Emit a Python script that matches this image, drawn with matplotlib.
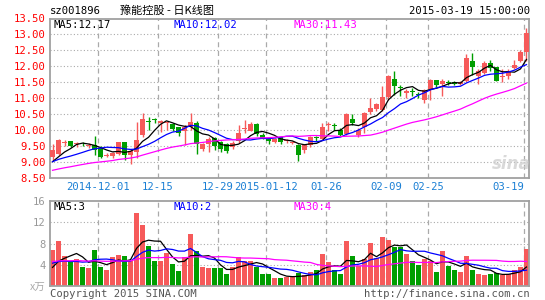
import numpy as np
import pandas as pd
import matplotlib
matplotlib.use('Agg')
import matplotlib.pyplot as plt

# ---------------- data ----------------
holidays = ['2015-01-01', '2015-01-02', '2015-02-18', '2015-02-19',
            '2015-02-20', '2015-02-23', '2015-02-24']
all_days = pd.bdate_range('2014-11-19', '2015-03-19')
dates = [d.strftime('%Y-%m-%d') for d in all_days if d.strftime('%Y-%m-%d') not in holidays]

open_ = [9.15, 9.25, 9.58, 9.64, 9.55, 9.60, 9.50, 9.51, 9.43, 9.18,
         9.17, 9.25, 9.62, 9.20, 9.30, 9.84, 10.28, 10.32, 10.22, 10.20,
         10.19, 10.08, 9.95, 10.10, 10.20, 9.40, 9.56, 9.74, 9.62, 9.55,
         9.45, 9.66, 10.03, 9.97, 10.18, 9.85, 9.74, 9.62, 9.76, 9.64,
         9.58, 9.53, 9.38, 9.53, 9.76, 9.72, 10.14, 10.14, 10.00, 9.86,
         10.33, 9.84, 10.10, 10.57, 10.66, 10.62, 11.04, 11.61, 11.34, 11.15,
         11.22, 11.14, 10.94, 11.27, 11.56, 11.45, 11.50, 11.50, 11.45, 11.52,
         12.16, 11.68, 11.78, 12.11, 11.96, 11.66, 11.68, 11.94, 12.17, 12.46]
close = [9.35, 9.67, 9.60, 9.49, 9.58, 9.57, 9.53, 9.38, 9.15, 9.20,
         9.27, 9.61, 9.22, 9.32, 9.69, 10.34, 10.25, 10.30, 10.28, 10.24,
         10.03, 9.90, 10.10, 10.26, 9.55, 9.55, 9.72, 9.50, 9.40, 9.34,
         9.60, 9.90, 10.05, 10.18, 9.86, 9.75, 9.64, 9.70, 9.63, 9.66,
         9.62, 9.22, 9.52, 9.78, 9.73, 10.08, 10.16, 10.11, 9.85, 10.49,
         10.21, 10.00, 10.52, 10.67, 10.81, 11.04, 11.69, 11.38, 11.30, 11.22,
         11.20, 11.10, 11.25, 11.58, 11.40, 11.52, 11.48, 11.45, 11.50, 12.25,
         11.99, 11.85, 12.10, 11.94, 11.55, 11.68, 11.86, 12.03, 12.45, 13.05]
high = [9.56, 9.70, 9.68, 9.66, 9.62, 9.62, 9.58, 9.79, 9.50, 9.26,
        9.30, 9.63, 9.63, 9.36, 10.24, 10.52, 10.39, 10.38, 10.30, 10.28,
        10.22, 10.10, 10.15, 10.54, 10.28, 9.57, 9.76, 9.78, 9.66, 9.58,
        9.65, 10.14, 10.30, 10.26, 10.20, 9.90, 9.76, 9.74, 9.78, 9.72,
        9.66, 9.56, 9.54, 9.80, 9.82, 10.20, 10.24, 10.20, 10.05, 10.52,
        10.50, 10.05, 10.55, 11.00, 10.85, 11.38, 11.72, 11.84, 11.40, 11.28,
        11.30, 11.20, 11.28, 11.60, 11.58, 11.60, 11.56, 11.55, 11.55, 12.38,
        12.40, 11.90, 12.15, 12.20, 11.98, 11.90, 11.92, 12.20, 12.52, 13.19]
low = [9.02, 9.20, 9.48, 9.45, 9.45, 9.50, 9.44, 9.20, 9.10, 9.14,
       9.10, 9.20, 9.05, 8.92, 9.12, 9.78, 10.00, 10.20, 9.93, 10.00,
       9.95, 9.82, 9.51, 10.00, 9.25, 9.33, 9.30, 9.35, 9.30, 9.28,
       9.40, 9.60, 9.90, 9.95, 9.80, 9.70, 9.55, 9.58, 9.56, 9.58,
       9.55, 9.03, 9.27, 9.45, 9.66, 9.70, 9.95, 10.00, 9.80, 9.84,
       10.15, 9.78, 9.90, 10.50, 10.60, 10.60, 10.95, 11.11, 11.05, 11.00,
       11.05, 11.00, 10.85, 10.94, 11.35, 11.05, 11.40, 11.40, 11.40, 11.50,
       11.73, 11.45, 11.75, 11.85, 11.55, 11.50, 11.60, 11.90, 12.12, 12.15]
volume = [6.7, 8.4, 5.7, 4.8, 5.0, 3.5, 3.3, 6.7, 3.5, 3.1,
          5.4, 5.8, 5.6, 4.8, 13.8, 11.4, 7.5, 4.8, 4.65, 6.2,
          4.2, 2.8, 5.5, 9.75, 6.5, 3.5, 3.3, 3.3, 3.3, 2.2,
          3.5, 5.5, 4.65, 4.8, 3.6, 2.2, 2.2, 1.6, 1.6, 1.7,
          1.7, 2.45, 2.0, 2.6, 2.95, 6.0, 4.5, 2.95, 2.2, 8.4,
          5.6, 3.7, 5.0, 8.1, 5.2, 9.2, 8.6, 7.4, 7.4, 6.0,
          4.65, 3.9, 5.0, 4.8, 2.6, 6.5, 3.7, 3.1, 2.6, 5.6,
          3.0, 2.2, 2.0, 2.2, 2.5, 2.0, 2.3, 3.1, 3.5, 7.0]

# estimated history before the visible window (needed for the moving averages)
prior_close = [8.45, 8.47, 8.50, 8.48, 8.52, 8.55, 8.53, 8.56, 8.58, 8.60,
               8.57, 8.60, 8.63, 8.65, 8.62, 8.66, 8.70, 8.68, 8.72, 8.75,
               8.95, 9.05, 9.00, 9.02, 8.98, 8.90, 8.85, 8.95, 8.93]
prior_volume = [4.2, 5.1, 4.8, 3.9, 5.5, 4.6, 4.9, 5.2, 4.4, 4.7,
                5.0, 4.3, 4.8, 5.3, 4.5, 4.9, 4.6, 5.0, 4.4, 4.9,
                5.4, 4.8, 5.6, 4.9, 4.8, 2.6, 2.9, 2.5, 2.8]

tick_dates = ['2014-12-01', '2014-12-15', '2014-12-29', '2015-01-12',
              '2015-01-26', '2015-02-09', '2015-02-25', '2015-03-19']
tick_labels = ['2014-12-01', '12-15', '12-29', '2015-01-12',
               '01-26', '02-09', '02-25', '03-19']
price_ticks = [8.5, 9.0, 9.5, 10.0, 10.5, 11.0, 11.5, 12.0, 12.5, 13.0, 13.5]
vol_ticks = [4, 8, 12, 16]

title_code = 'sz001896'
title_name = '豫能控股 - 日K线图'
title_time = '2015-03-19 15:00:00'
ma_price_labels = ['MA5:12.17', 'MA10:12.02', 'MA30:11.43']
ma_vol_labels = ['MA5:3', 'MA10:2', 'MA30:4']

# ---------------- styling ----------------
RED = '#f65a5a'
GREEN = '#009e00'
MA_COLORS = ['#000000', '#0000ff', '#ff00ff']
GRID = '#aaaaaa'
MONO = 'DejaVu Sans Mono'

W, H = 545, 300
fig = plt.figure(figsize=(W / 100, H / 100), dpi=100)
fig.patch.set_facecolor('white')


def frac(x0, y0, x1, y1):
    return [x0 / W, 1 - y1 / H, (x1 - x0) / W, (y1 - y0) / H]


ax = fig.add_axes(frac(50, 18.5, 529, 177.5))
axv = fig.add_axes(frac(50, 201, 529, 286))

n = len(close)
x = np.arange(n)
o = np.array(open_); c = np.array(close); hi = np.array(high); lo = np.array(low)
v = np.array(volume)
up = c >= o
cols = np.where(up, RED, GREEN)

full_c = pd.Series(prior_close + close)
full_v = pd.Series(prior_volume + volume)
k = len(prior_close)
ma_c = [full_c.rolling(p).mean().values[k:] for p in (5, 10, 30)]
ma_v = [full_v.rolling(p).mean().values[k:] for p in (5, 10, 30)]

xmin, xmax = -0.42, n - 1 + 0.42
grid_x = [dates.index(d) - 0.42 for d in tick_dates]

for a in (ax, axv):
    a.set_xlim(xmin, xmax)
    for s in a.spines.values():
        s.set_color('#a0a0a0')
        s.set_linewidth(1.3)
    a.tick_params(length=0)
    for gx in grid_x:
        a.axvline(gx, color=GRID, lw=0.9, ls=(0, (4, 3)), zorder=0)

# price panel
ax.set_ylim(8.5, 13.5)
for yv in price_ticks[1:-1]:
    ax.axhline(yv, color=GRID, lw=0.8, ls=(0, (1, 2)), zorder=0)
ax.vlines(x, lo, hi, colors=cols, lw=1.0, zorder=2)
body_h = np.maximum(np.abs(c - o), 0.03)
ax.bar(x, body_h, bottom=np.minimum(o, c), width=0.82, color=cols, linewidth=0, zorder=3)
for m, col in zip(ma_c, MA_COLORS):
    ax.plot(x, m, color=col, lw=0.9, zorder=4)
ax.set_yticks(price_ticks)
ax.set_yticklabels(['%.2f' % t for t in price_ticks], color='#ff0000',
                   fontsize=7.6, family=MONO)
ax.tick_params(axis='y', pad=3)
ax.set_xticks(grid_x)
xl = ax.set_xticklabels(tick_labels, color='#1a7fd4', fontsize=7.6, family=MONO)
xl[-1].set_ha('right')
ax.tick_params(axis='x', pad=3.5)

# volume panel
axv.set_ylim(0, 16)
for yv in vol_ticks[:-1]:
    axv.axhline(yv, color=GRID, lw=0.8, ls=(0, (1, 2)), zorder=0)
axv.bar(x, v, width=0.82, color=cols, linewidth=0, zorder=2)
for m, col in zip(ma_v, MA_COLORS):
    axv.plot(x, m, color=col, lw=0.9, zorder=4)
axv.set_yticks(vol_ticks)
axv.set_yticklabels([str(t) for t in vol_ticks], color='#999999',
                    fontsize=7.6, family=MONO)
axv.tick_params(axis='y', pad=3)
axv.set_xticks([])


def ftext(px, py, s, **kw):
    fig.text(px / W, 1 - py / H, s, **kw)


ftext(50, 11, title_code, fontsize=7.6, family=MONO, va='center', ha='left')
ftext(120, 11, title_name, fontsize=8, family=['Noto Sans CJK SC', 'DejaVu Sans'],
      va='center', ha='left')
ftext(530, 11, title_time, fontsize=7.6, family=MONO, va='center', ha='right')

for s, px, col in zip(ma_price_labels, (54, 174, 294), MA_COLORS):
    ftext(px, 25, s, fontsize=7.6, family=MONO, color=col, va='center', ha='left')
for s, px, col in zip(ma_vol_labels, (54, 174, 294), MA_COLORS):
    ftext(px, 207, s, fontsize=7.6, family=MONO, color=col, va='center', ha='left')

ftext(46, 287, 'x万', fontsize=7.6, family=['Noto Sans CJK SC', 'DejaVu Sans'],
      color='#aaaaaa', va='center', ha='right')
ftext(50, 294, 'Copyright 2015 SINA.COM', fontsize=7.6, family=MONO,
      color='#555555', va='center', ha='left')
ftext(530, 294, 'http://finance.sina.com.cn', fontsize=7.6, family=MONO,
      color='#555555', va='center', ha='right')
ftext(511, 164, 'sina', fontsize=12, family='DejaVu Sans', style='italic',
      weight='bold', color='#d0d0d0', va='center', ha='center', alpha=0.8)

fig.savefig('out.png', dpi=100, facecolor='white')
